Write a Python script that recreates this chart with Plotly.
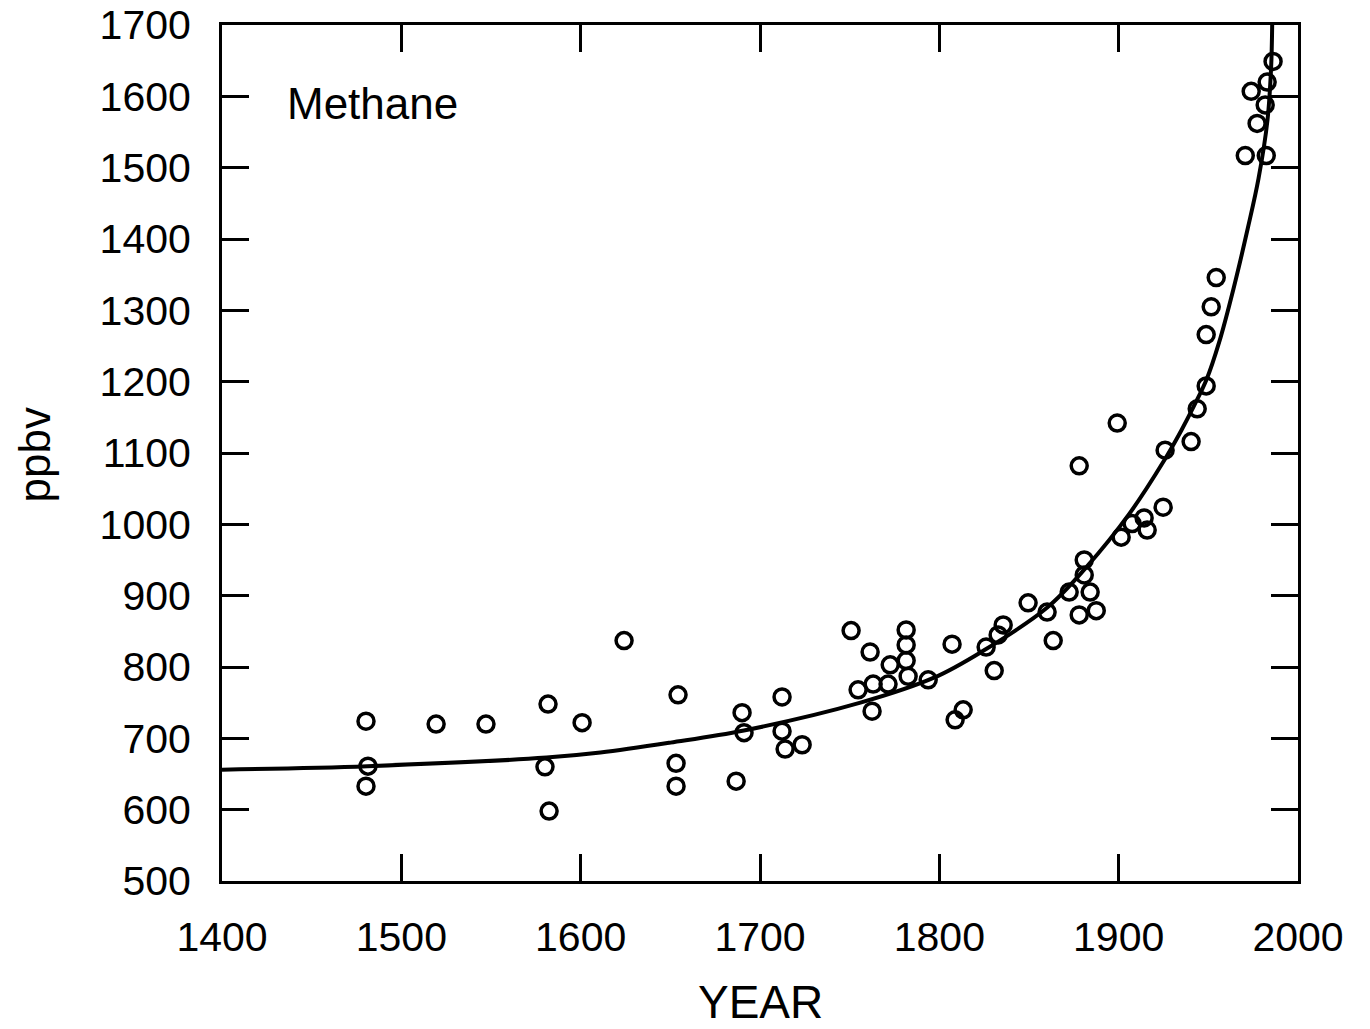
import plotly.graph_objects as go

# Observed methane concentrations (ice cores + atmosphere)
years = [1480.3, 1481.4, 1480.3, 1519.4, 1547.2, 1581.8, 1580.1, 1582.4, 1600.8, 1624.2,
         1654.3, 1653.2, 1653.2, 1690.0, 1691.1, 1686.7, 1712.3, 1712.3, 1714.0, 1723.5,
         1750.8, 1754.7, 1761.4, 1762.5, 1763.1, 1772.6, 1771.4, 1781.5, 1781.5, 1781.5,
         1782.6, 1793.8, 1807.1, 1808.8, 1813.3, 1826.1, 1830.6, 1832.8, 1835.6, 1849.5,
         1860.1, 1863.5, 1872.4, 1878.0, 1878.0, 1880.8, 1880.8, 1884.1, 1887.5, 1899.2,
         1901.4, 1907.5, 1914.2, 1915.9, 1924.8, 1925.9, 1940.4, 1943.8, 1948.8, 1948.8,
         1951.6, 1954.4, 1970.6, 1982.3, 1977.2, 1973.9, 1981.7, 1982.8, 1986.1]
ppbv = [724, 661, 633, 720, 720, 748, 660, 598, 722, 837,
        761, 665, 633, 736, 708, 640, 758, 710, 685, 691,
        851, 768, 821, 738, 776, 803, 776, 852, 831, 809,
        787, 782, 832, 726, 740, 828, 795, 845, 859, 890,
        877, 837, 905, 873, 1082, 950, 929, 905, 879, 1142,
        982, 1001, 1009, 992, 1024, 1104, 1116, 1162, 1194, 1266,
        1305, 1346, 1517, 1517, 1562, 1607, 1588, 1620, 1649]

# Fitted curve
curve_years = [1400, 1481, 1581, 1611, 1650, 1691, 1756, 1797, 1824, 1860,
               1882, 1906, 1925, 1935, 1942, 1949, 1956, 1964, 1972, 1978,
               1983, 1985, 1985.6]
curve_ppbv = [656, 661, 673, 680, 694, 711, 750, 785, 822, 883,
              940, 1015, 1088, 1132, 1166, 1203, 1255, 1330, 1415, 1485,
              1567, 1640, 1700]

x_ticks = [1400, 1500, 1600, 1700, 1800, 1900, 2000]
y_ticks = [500, 600, 700, 800, 900, 1000, 1100, 1200, 1300, 1400, 1500, 1600, 1700]

FONT = "Liberation Sans"

fig = go.Figure()
fig.add_trace(go.Scatter(
    x=curve_years, y=curve_ppbv, mode="lines",
    line=dict(color="black", width=4, shape="spline", smoothing=1.0),
    hoverinfo="skip", showlegend=False))
fig.add_trace(go.Scatter(
    x=years, y=ppbv, mode="markers",
    marker=dict(symbol="circle-open", size=16, color="black",
                line=dict(color="black", width=3.5)),
    showlegend=False))

axis_common = dict(
    showgrid=False, zeroline=False, showline=True, linecolor="black", linewidth=3,
    mirror="ticks", ticks="inside", tickcolor="black", tickwidth=3, ticklen=27,
    tickfont=dict(family=FONT, size=41, color="black"),
)
fig.update_xaxes(range=[1400, 2000], tickvals=x_ticks, ticktext=[str(v) for v in x_ticks],
                 ticklabelstandoff=18, **axis_common)
fig.update_yaxes(range=[500, 1700], tickvals=y_ticks, ticktext=[str(v) for v in y_ticks],
                 ticklabelstandoff=20, **axis_common)

fig.add_annotation(text="Methane", xref="paper", yref="paper", x=0.0586, y=0.908,
                   xanchor="left", yanchor="middle", showarrow=False,
                   font=dict(family=FONT, size=44, color="black"))
fig.add_annotation(text="YEAR", xref="paper", yref="paper", x=0.5, y=-0.141,
                   xanchor="center", yanchor="middle", showarrow=False,
                   font=dict(family=FONT, size=46, color="black"))
fig.add_annotation(text="ppbv", xref="paper", yref="paper", x=-0.174, y=0.498,
                   xanchor="center", yanchor="middle", textangle=-90, showarrow=False,
                   font=dict(family=FONT, size=44, color="black"))

fig.update_layout(
    width=1370, height=1029,
    margin=dict(l=222, r=72, t=25, b=148, autoexpand=False),
    paper_bgcolor="white", plot_bgcolor="white",
)
fig.write_html("out.html")
